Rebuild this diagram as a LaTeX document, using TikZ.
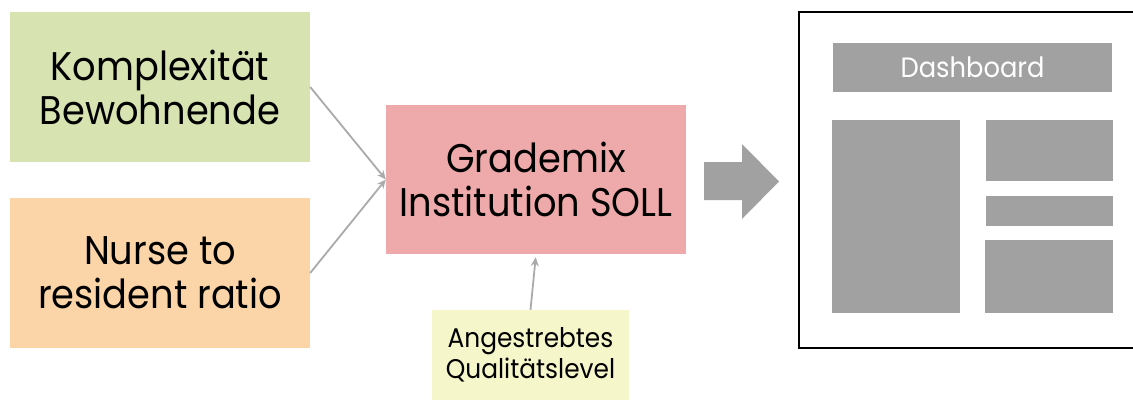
\documentclass[tikz,border=0pt]{standalone}
\usepackage{fontspec}
\setmainfont{Poppins}[FakeStretch=0.92]
\usetikzlibrary{arrows.meta}
\definecolor{komplexgreen}{RGB}{215,228,177}
\definecolor{nurseorange}{RGB}{251,213,168}
\definecolor{solred}{RGB}{238,170,170}
\definecolor{levelyellow}{RGB}{245,246,202}
\definecolor{panelgrey}{RGB}{161,161,161}
\definecolor{linkgrey}{RGB}{170,170,170}
\begin{document}
\begin{tikzpicture}[x=1pt,y=-1pt]
        \tikzstyle{every node}=[inner sep=0pt, align=center, font=\fontsize{40}{44}\selectfont]
        \tikzstyle{inbox}=[minimum width=300pt, minimum height=150pt]
        \tikzstyle{link}=[draw=linkgrey, line width=1.8pt, -{Stealth[length=9pt,width=8pt]}]
        \tikzstyle{panel}=[fill=panelgrey]
        \useasboundingbox (0,0) rectangle (1133,400);
        \node[inbox, fill=komplexgreen] (komplex) at (160,87) {Komplexität\\Bewohnende};
        \node[inbox, fill=nurseorange] (nurse) at (160,273) {Nurse to\\resident ratio};
        \node[minimum width=300pt, minimum height=149pt, fill=solred] (grademix) at (536,179.5) {Grademix\\Institution SOLL};
        \node[minimum width=197pt, minimum height=90pt, fill=levelyellow, font=\fontsize{27}{31}\selectfont] (quali) at (530.5,355) {Angestrebtes\\Qualitätslevel};
        \draw[link] (komplex.east) -- (grademix.west);
        \draw[link] (nurse.east) -- (grademix.west);
        \draw[link, shorten >=3pt] (quali.north) -- (grademix.south);
        % big arrow towards the dashboard
        \fill[panelgrey] (704,162) -- (742,162) -- (742,144) -- (779,181.5) -- (742,219) -- (742,200) -- (704,200) -- cycle;
        % dashboard mock-up
        \draw[line width=2pt] (799,12) rectangle (1145,348);
        \node[panel, minimum width=279pt, minimum height=49pt, text=white, font=\fontsize{28}{32}\selectfont] (dashboard) at (972.5,67.5) {Dashboard};
        \fill[panel] (832,120) rectangle (960,313);
        \fill[panel] (986,120) rectangle (1113,181);
        \fill[panel] (986,196) rectangle (1113,226);
        \fill[panel] (985,240) rectangle (1113,313);
    \end{tikzpicture}
\end{document}
